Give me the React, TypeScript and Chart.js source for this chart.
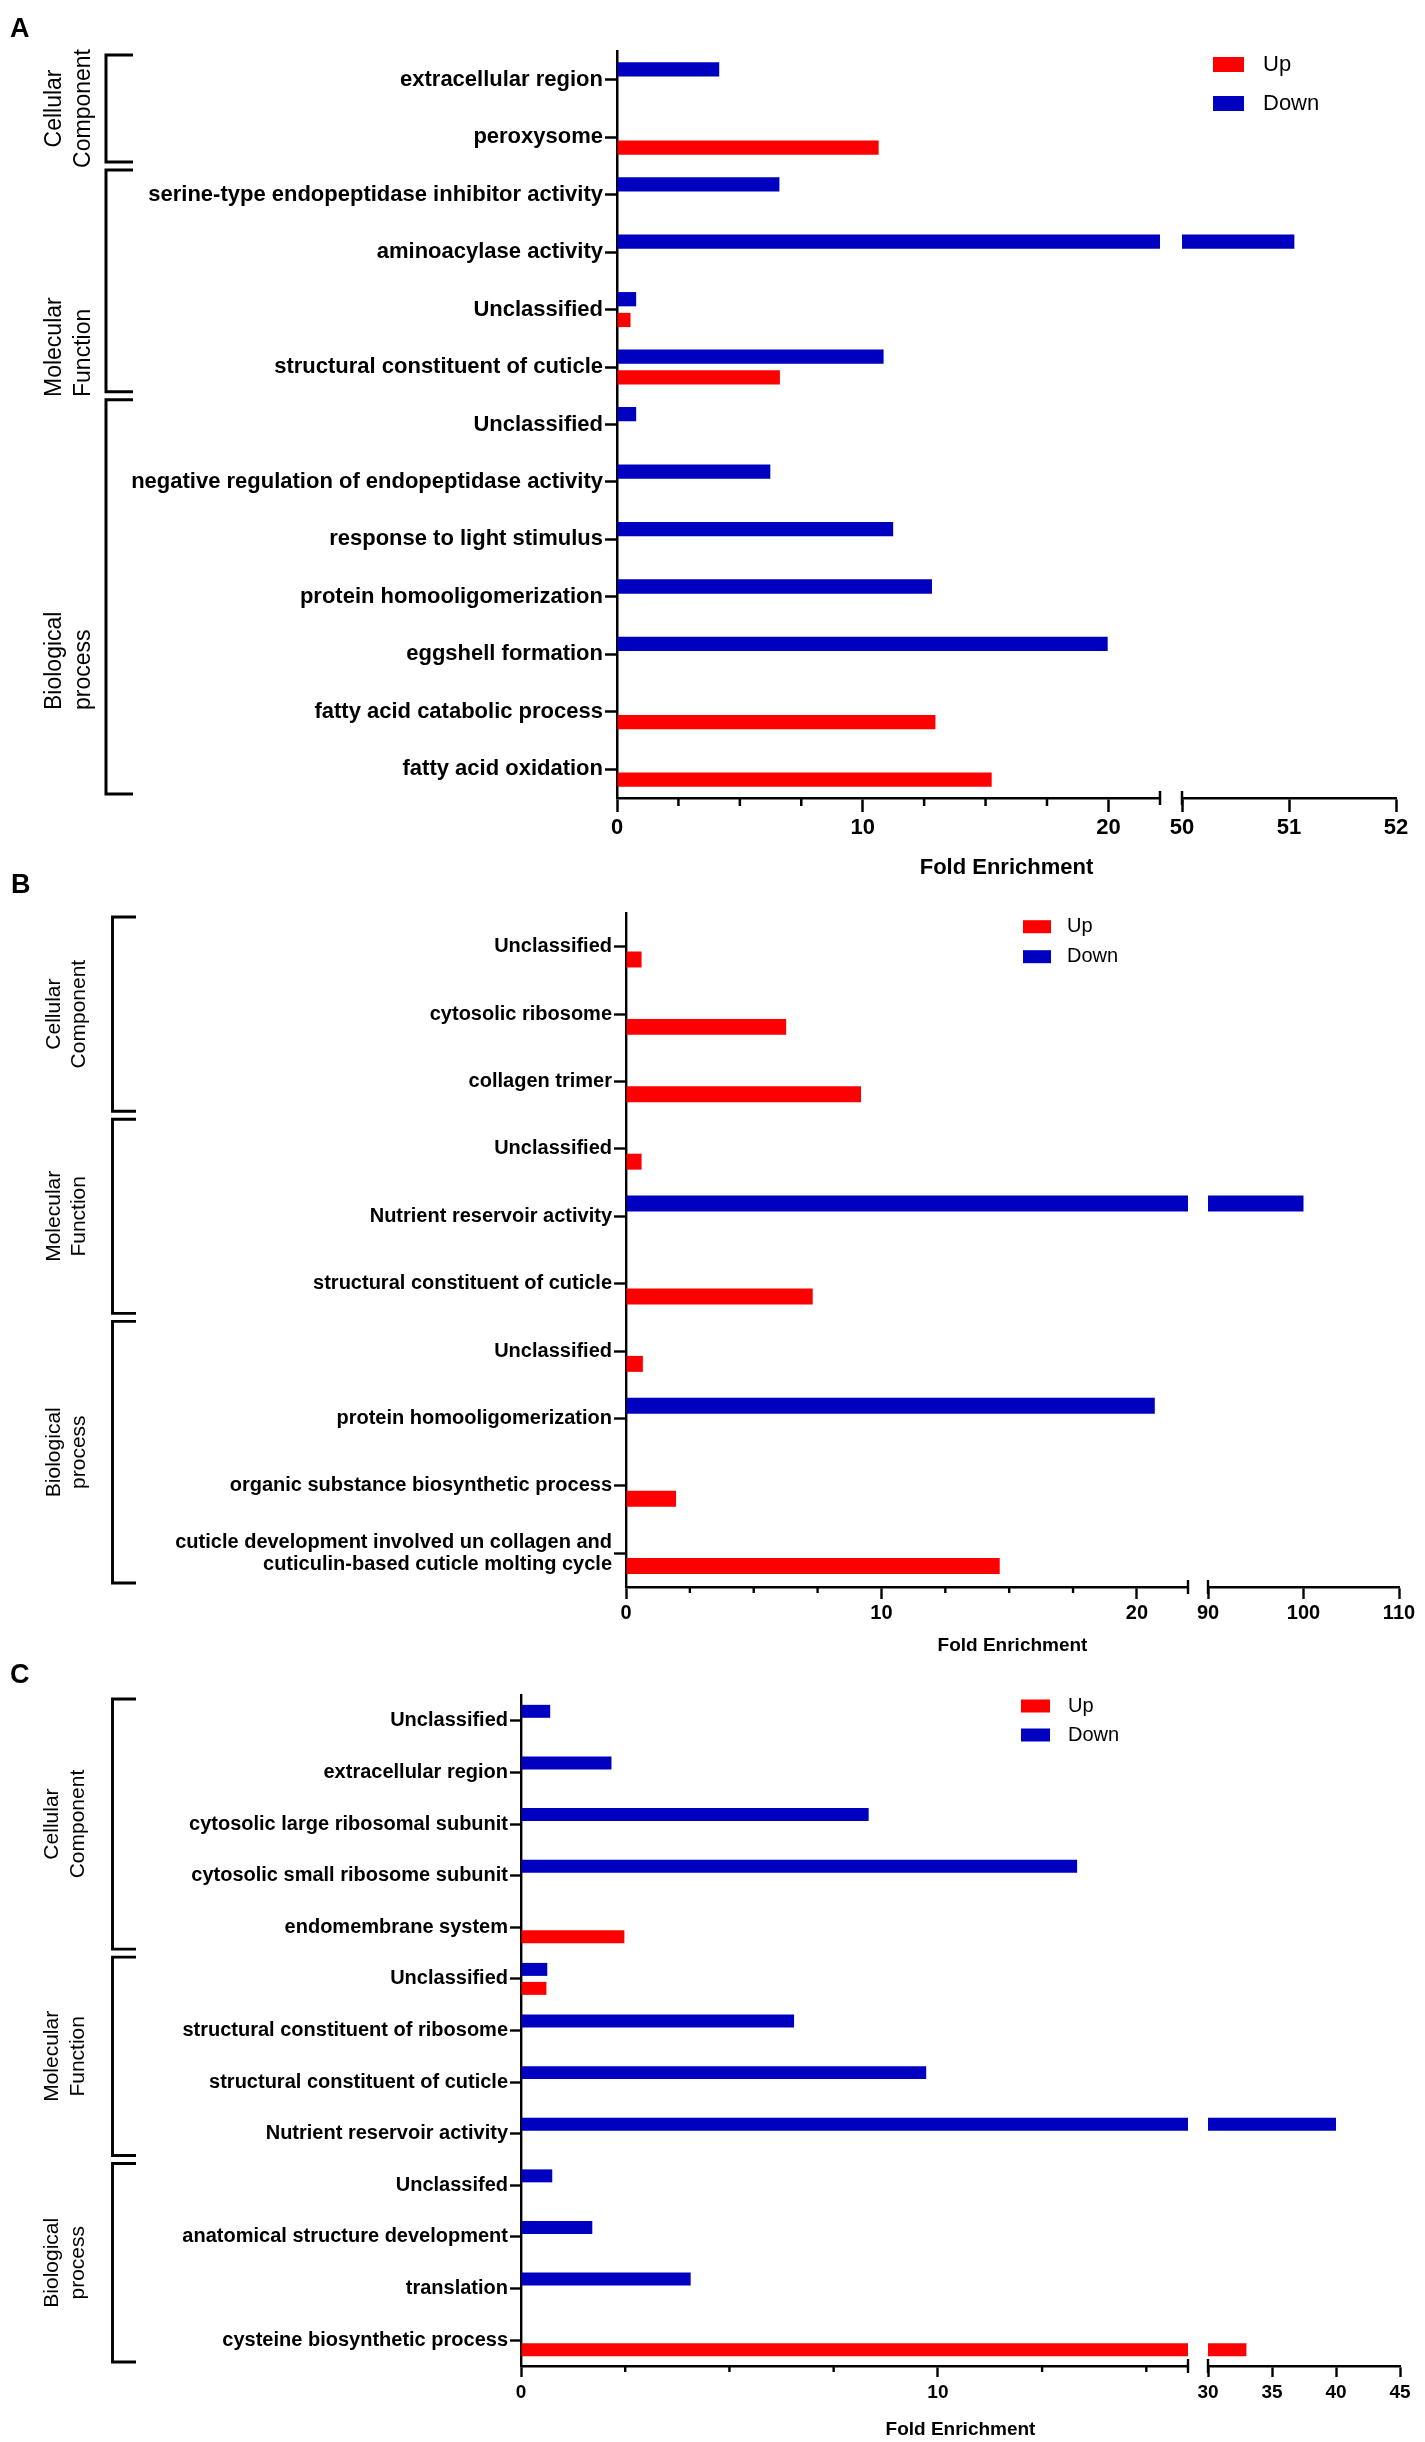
import React, { useEffect, useRef } from "react";
import { Chart, registerables } from "chart.js";

Chart.register(...registerables);

const RED = "#FF0000";
const BLUE = "#0000C0";
const FONT = "Arial, 'Liberation Sans', Helvetica, sans-serif";
const PAGE_W = 1425;
const PAGE_H = 2442;

// ---------------- Panel A data ----------------
const A_CATEGORIES = [
  "extracellular region",
  "peroxysome",
  "serine-type endopeptidase inhibitor activity",
  "aminoacylase activity",
  "Unclassified",
  "structural constituent of cuticle",
  "Unclassified",
  "negative regulation of endopeptidase activity",
  "response to light stimulus",
  "protein homooligomerization",
  "eggshell formation",
  "fatty acid catabolic process",
  "fatty acid oxidation",
];
const A_UP = [null, 10.65, null, null, 0.55, 6.63, null, null, null, null, null, 12.96, 15.25];
const A_DOWN = [4.16, null, 6.61, 51.05, 0.78, 10.85, 0.78, 6.24, 11.24, 12.82, 19.97, null, null];
const A_GROUP_NAMES = [["Cellular", "Component"], ["Molecular", "Function"], ["Biological", "process"]];
const A_GROUP_SIZES = [2, 4, 7];
const A_SEG1_RANGE = [0, 22.1];
const A_SEG1_TICKS = [0, 2.5, 5, 7.5, 10, 12.5, 15, 17.5, 20];
const A_SEG1_LABELS = [0, 10, 20];
const A_SEG2_RANGE = [50, 52];
const A_SEG2_TICKS = [50, 51, 52];
const A_SEG2_LABELS = [50, 51, 52];

// ---------------- Panel B data ----------------
const B_CATEGORIES = [
  "Unclassified",
  "cytosolic ribosome",
  "collagen trimer",
  "Unclassified",
  "Nutrient reservoir activity",
  "structural constituent of cuticle",
  "Unclassified",
  "protein homooligomerization",
  "organic substance biosynthetic process",
  ["cuticle development involved un collagen and", "cuticulin-based cuticle molting cycle"],
];
const B_UP = [0.61, 6.27, 9.2, 0.61, null, 7.31, 0.66, null, 1.96, 14.63];
const B_DOWN = [null, null, null, null, 100, null, null, 20.7, null, null];
const B_GROUP_NAMES = [["Cellular", "Component"], ["Molecular", "Function"], ["Biological", "process"]];
const B_GROUP_SIZES = [3, 3, 4];
const B_SEG1_RANGE = [0, 22];
const B_SEG1_TICKS = [0, 2.5, 5, 7.5, 10, 12.5, 15, 17.5, 20];
const B_SEG1_LABELS = [0, 10, 20];
const B_SEG2_RANGE = [90, 110];
const B_SEG2_TICKS = [90, 100, 110];
const B_SEG2_LABELS = [90, 100, 110];

// ---------------- Panel C data ----------------
const C_CATEGORIES = [
  "Unclassified",
  "extracellular region",
  "cytosolic large ribosomal subunit",
  "cytosolic small ribosome subunit",
  "endomembrane system",
  "Unclassified",
  "structural constituent of ribosome",
  "structural constituent of cuticle",
  "Nutrient reservoir activity",
  "Unclassifed",
  "anatomical structure development",
  "translation",
  "cysteine biosynthetic process",
];
const C_UP = [null, null, null, null, 2.48, 0.61, null, null, null, null, null, null, 33];
const C_DOWN = [0.7, 2.17, 8.34, 13.34, null, 0.63, 6.55, 9.72, 40, 0.75, 1.71, 4.07, null];
const C_GROUP_NAMES = [["Cellular", "Component"], ["Molecular", "Function"], ["Biological", "process"]];
const C_GROUP_SIZES = [5, 4, 4];
const C_SEG1_RANGE = [0, 16];
const C_SEG1_TICKS = [0, 2.5, 5, 7.5, 10, 12.5, 15];
const C_SEG1_LABELS = [0, 10];
const C_SEG2_RANGE = [30, 45];
const C_SEG2_TICKS = [30, 35, 40, 45];
const C_SEG2_LABELS = [30, 35, 40, 45];

const SERIES_LABELS = ["Up", "Down"];
const AXIS_TITLE = "Fold Enrichment";

// ---------------- Layout (positions / styles) ----------------
type Layout = {
  top: number;
  bottom: number;
  seg1: number[];
  seg2: number[];
  lw: number;
  yFont: number;
  yTickLen: number;
  xFont: number;
  majorLen: number;
  minorLen: number;
  tickPad: number;
  titleFont: number;
  titleY: number;
  groupFont: number;
  groupLineX: number[];
  bracketX: number[];
  groupAnchor: (number | null)[];
  letterFont: number;
  letterX: number;
  letterY: number;
  legendX: number;
  legendW: number;
  legendH: number;
  legendY: number[];
  legendTextX: number;
  legendFont: number;
  catPct: number;
  barPct: number;
};

const LAYOUT_A: Layout = {
  top: 51, bottom: 798, seg1: [617, 1160], seg2: [1182, 1396], lw: 2.5,
  yFont: 22, yTickLen: 12, xFont: 22, majorLen: 14, minorLen: 8, tickPad: 3,
  titleFont: 22, titleY: 868, groupFont: 23, groupLineX: [55, 84], bracketX: [106, 133],
  groupAnchor: [null, 397, 710], letterFont: 27, letterX: 10, letterY: 37,
  legendX: 1213, legendW: 31, legendH: 15, legendY: [64.5, 103.5], legendTextX: 1263, legendFont: 22,
  catPct: 0.723, barPct: 0.6875,
};
const LAYOUT_B: Layout = {
  top: 913, bottom: 1587, seg1: [626, 1188], seg2: [1208, 1399], lw: 2.4,
  yFont: 20, yTickLen: 12, xFont: 20, majorLen: 12, minorLen: 6, tickPad: 2,
  titleFont: 19, titleY: 1646, groupFont: 21, groupLineX: [54.5, 79], bracketX: [112.5, 136],
  groupAnchor: [null, null, null], letterFont: 27, letterX: 11, letterY: 893,
  legendX: 1023, legendW: 28, legendH: 13, legendY: [926.7, 956.7], legendTextX: 1067, legendFont: 20,
  catPct: 0.758, barPct: 0.625,
};
const LAYOUT_C: Layout = {
  top: 1695, bottom: 2366, seg1: [521, 1188], seg2: [1208, 1400], lw: 2.4,
  yFont: 20, yTickLen: 11, xFont: 19, majorLen: 11, minorLen: 6, tickPad: 4,
  titleFont: 19, titleY: 2430, groupFont: 21, groupLineX: [52, 78], bracketX: [112.5, 136],
  groupAnchor: [null, null, null], letterFont: 27, letterX: 10, letterY: 1683,
  legendX: 1021, legendW: 29, legendH: 13, legendY: [1706, 1735], legendTextX: 1068, legendFont: 20,
  catPct: 0.735, barPct: 0.684,
};

type Panel = {
  letter: string;
  categories: (string | string[])[];
  up: (number | null)[];
  down: (number | null)[];
  groupNames: string[][];
  groupSizes: number[];
  seg1Range: number[];
  seg1Ticks: number[];
  seg1Labels: number[];
  seg2Range: number[];
  seg2Ticks: number[];
  seg2Labels: number[];
  layout: Layout;
};

const PANELS: Panel[] = [
  {
    letter: "A", categories: A_CATEGORIES, up: A_UP, down: A_DOWN,
    groupNames: A_GROUP_NAMES, groupSizes: A_GROUP_SIZES,
    seg1Range: A_SEG1_RANGE, seg1Ticks: A_SEG1_TICKS, seg1Labels: A_SEG1_LABELS,
    seg2Range: A_SEG2_RANGE, seg2Ticks: A_SEG2_TICKS, seg2Labels: A_SEG2_LABELS,
    layout: LAYOUT_A,
  },
  {
    letter: "B", categories: B_CATEGORIES, up: B_UP, down: B_DOWN,
    groupNames: B_GROUP_NAMES, groupSizes: B_GROUP_SIZES,
    seg1Range: B_SEG1_RANGE, seg1Ticks: B_SEG1_TICKS, seg1Labels: B_SEG1_LABELS,
    seg2Range: B_SEG2_RANGE, seg2Ticks: B_SEG2_TICKS, seg2Labels: B_SEG2_LABELS,
    layout: LAYOUT_B,
  },
  {
    letter: "C", categories: C_CATEGORIES, up: C_UP, down: C_DOWN,
    groupNames: C_GROUP_NAMES, groupSizes: C_GROUP_SIZES,
    seg1Range: C_SEG1_RANGE, seg1Ticks: C_SEG1_TICKS, seg1Labels: C_SEG1_LABELS,
    seg2Range: C_SEG2_RANGE, seg2Ticks: C_SEG2_TICKS, seg2Labels: C_SEG2_LABELS,
    layout: LAYOUT_C,
  },
];

const X_AXIS_H = 40;

function makeChart(canvas: HTMLCanvasElement, p: Panel, seg: 1 | 2): Chart {
  const L = p.layout;
  const range = seg === 1 ? p.seg1Range : p.seg2Range;
  const ticks = seg === 1 ? p.seg1Ticks : p.seg2Ticks;
  const labels = seg === 1 ? p.seg1Labels : p.seg2Labels;
  const left = seg === 1 ? L.seg1[0] : L.seg2[0];
  const right = seg === 1 ? L.seg1[1] : L.seg2[1];

  const decor = {
    id: "decor" + seg,
    afterDraw(chart: any) {
      const ctx: CanvasRenderingContext2D = chart.ctx;
      const area = chart.chartArea;
      const xs = chart.scales.x;
      const ys = chart.scales.y;
      ctx.save();
      ctx.strokeStyle = "#000";
      ctx.fillStyle = "#000";
      ctx.lineWidth = L.lw;
      ctx.lineCap = "butt";
      // minor ticks
      ticks.forEach((v) => {
        if (labels.includes(v)) return;
        const x = xs.getPixelForValue(v);
        ctx.beginPath();
        ctx.moveTo(x, area.bottom);
        ctx.lineTo(x, area.bottom + L.minorLen);
        ctx.stroke();
      });
      // axis break mark
      const bx = seg === 1 ? area.right : area.left;
      ctx.beginPath();
      ctx.moveTo(bx, area.bottom - 7);
      ctx.lineTo(bx, area.bottom + 7);
      ctx.stroke();

      if (seg === 1) {
        // group brackets and labels
        const step = ys.getPixelForValue(1) - ys.getPixelForValue(0);
        let start = 0;
        p.groupSizes.forEach((size, gi) => {
          const first = start;
          const last = start + size - 1;
          start += size;
          const t = ys.getPixelForValue(first) - step / 2 + 4;
          const b = ys.getPixelForValue(last) + step / 2 - 4;
          ctx.lineWidth = L.lw + 0.5;
          ctx.lineJoin = "miter";
          ctx.beginPath();
          ctx.moveTo(L.bracketX[1], t);
          ctx.lineTo(L.bracketX[0], t);
          ctx.lineTo(L.bracketX[0], b);
          ctx.lineTo(L.bracketX[1], b);
          ctx.stroke();
          const anchor = L.groupAnchor[gi];
          ctx.font = `${L.groupFont}px ${FONT}`;
          ctx.textBaseline = "middle";
          p.groupNames[gi].forEach((line, li) => {
            ctx.save();
            if (anchor == null) {
              ctx.translate(L.groupLineX[li], (t + b) / 2);
              ctx.textAlign = "center";
            } else {
              ctx.translate(L.groupLineX[li], anchor);
              ctx.textAlign = "left";
            }
            ctx.rotate(-Math.PI / 2);
            ctx.fillText(line, 0, 0);
            ctx.restore();
          });
        });

        // axis title
        ctx.font = `bold ${L.titleFont}px ${FONT}`;
        ctx.textAlign = "center";
        ctx.textBaseline = "middle";
        ctx.fillText(AXIS_TITLE, (L.seg1[0] + L.seg2[1]) / 2, L.titleY);

        // panel letter
        ctx.font = `bold ${L.letterFont}px ${FONT}`;
        ctx.textAlign = "left";
        ctx.textBaseline = "alphabetic";
        ctx.fillText(p.letter, L.letterX, L.letterY);

        // legend
        SERIES_LABELS.forEach((name, i) => {
          const ds = chart.data.datasets.find((d: any) => d.label === name);
          const cy = L.legendY[i];
          ctx.fillStyle = ds.backgroundColor;
          ctx.fillRect(L.legendX, cy - L.legendH / 2, L.legendW, L.legendH);
          ctx.fillStyle = "#000";
          ctx.font = `${L.legendFont}px ${FONT}`;
          ctx.textAlign = "left";
          ctx.textBaseline = "middle";
          ctx.fillText(name, L.legendTextX, cy);
        });
      }
      ctx.restore();
    },
  };

  const cfg: any = {
    type: "bar",
    data: {
      labels: p.categories,
      datasets: [
        {
          label: "Down",
          data: p.down,
          backgroundColor: BLUE,
          borderWidth: 0,
          clip: 0,
          categoryPercentage: L.catPct,
          barPercentage: L.barPct,
        },
        {
          label: "Up",
          data: p.up,
          backgroundColor: RED,
          borderWidth: 0,
          clip: 0,
          categoryPercentage: L.catPct,
          barPercentage: L.barPct,
        },
      ],
    },
    options: {
      indexAxis: "y",
      responsive: false,
      maintainAspectRatio: false,
      animation: false,
      events: [],
      layout: {
        padding: {
          left: seg === 1 ? 0 : left,
          right: PAGE_W - right,
          top: L.top,
          bottom: PAGE_H - L.bottom - X_AXIS_H,
        },
      },
      plugins: {
        legend: { display: false },
        tooltip: { enabled: false },
        title: { display: false },
      },
      scales: {
        x: {
          type: "linear",
          position: "bottom",
          min: range[0],
          max: range[1],
          afterBuildTicks: (s: any) => {
            s.ticks = ticks.map((v) => ({ value: v }));
          },
          afterFit: (s: any) => {
            s.height = X_AXIS_H;
          },
          ticks: {
            autoSkip: false,
            maxRotation: 0,
            minRotation: 0,
            padding: L.tickPad,
            color: "#000",
            font: { family: FONT, size: L.xFont, weight: "bold" },
            callback: (v: any) => (labels.includes(Number(v)) ? String(v) : ""),
          },
          grid: {
            drawOnChartArea: false,
            drawTicks: true,
            tickLength: L.majorLen,
            tickWidth: L.lw,
            tickColor: (c: any) =>
              c.tick && labels.includes(c.tick.value) ? "#000" : "rgba(0,0,0,0)",
          },
          border: { display: true, color: "#000", width: L.lw },
        },
        y: {
          type: "category",
          position: "left",
          display: seg === 1,
          afterFit: (s: any) => {
            if (seg === 1) s.width = left;
          },
          ticks: {
            autoSkip: false,
            padding: 2,
            color: "#000",
            font: { family: FONT, size: L.yFont, weight: "bold", lineHeight: 1.1 },
          },
          grid: {
            offset: false,
            drawOnChartArea: false,
            drawTicks: true,
            tickLength: L.yTickLen,
            tickWidth: L.lw,
            tickColor: "#000",
          },
          border: { display: seg === 1, color: "#000", width: L.lw },
        },
      },
    },
    plugins: [decor],
  };
  return new Chart(canvas, cfg);
}

function BrokenAxisPanel({ panel }: { panel: Panel }) {
  const ref1 = useRef<HTMLCanvasElement | null>(null);
  const ref2 = useRef<HTMLCanvasElement | null>(null);
  useEffect(() => {
    if (!ref1.current || !ref2.current) return;
    const c1 = makeChart(ref1.current, panel, 1);
    const c2 = makeChart(ref2.current, panel, 2);
    return () => {
      c1.destroy();
      c2.destroy();
    };
  }, [panel]);
  const st: React.CSSProperties = {
    position: "absolute",
    left: 0,
    top: 0,
    width: PAGE_W,
    height: PAGE_H,
  };
  return (
    <>
      <canvas ref={ref1} width={PAGE_W} height={PAGE_H} style={st} />
      <canvas ref={ref2} width={PAGE_W} height={PAGE_H} style={st} />
    </>
  );
}

export default function App() {
  useEffect(() => {
    document.body.style.margin = "0";
    document.body.style.overflow = "hidden";
  }, []);
  return (
    <div
      style={{
        position: "absolute",
        left: 0,
        top: 0,
        width: PAGE_W,
        height: PAGE_H,
        background: "#fff",
        overflow: "hidden",
      }}
    >
      {PANELS.map((p) => (
        <BrokenAxisPanel key={p.letter} panel={p} />
      ))}
    </div>
  );
}
